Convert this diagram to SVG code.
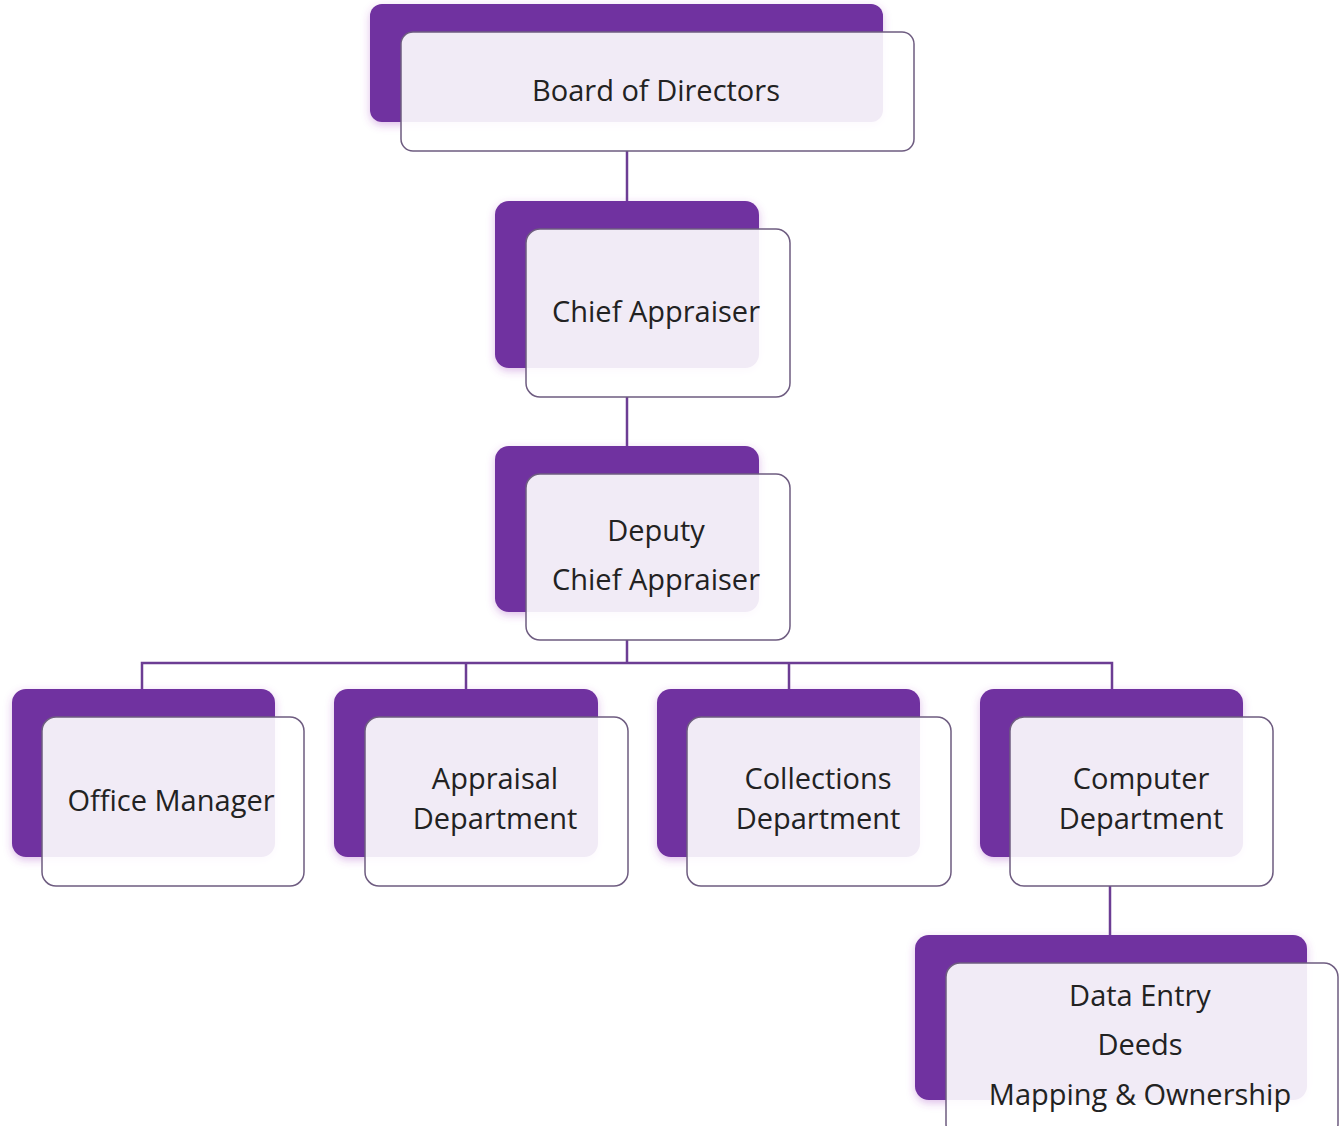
<svg xmlns="http://www.w3.org/2000/svg" width="1341" height="1126" viewBox="0 0 1341 1126">
<style>
.back{fill:#7030a0;}
.front{fill:#ffffff;fill-opacity:0.9;stroke:#6e5c80;stroke-width:1.5;}
.lbl{font-family:"Open Sans","Liberation Sans",Arial,sans-serif;font-size:29px;fill:#222;text-anchor:middle;}
.conn{stroke:#6c3d94;stroke-width:2.5;fill:none;}
</style>
<defs>
<filter id="sh" x="-10%" y="-10%" width="120%" height="130%">
<feDropShadow dx="0" dy="3" stdDeviation="4" flood-color="#a040c0" flood-opacity="0.35"/>
</filter>
</defs>
<rect width="1341" height="1126" fill="#ffffff"/>
<g id="connectors">
<path class="conn" d="M627 151 V201"/>
<path class="conn" d="M627 397 V446"/>
<path class="conn" d="M627 640 V663 M142 689 V663 H1112 V689 M466 663 V689 M789 663 V689"/>
<path class="conn" d="M1110 886 V935"/>
</g>
<g id="board">
<rect class="back" x="370" y="4" width="513" height="118" rx="12" filter="url(#sh)"/>
<rect class="front" x="401" y="32" width="513" height="119" rx="12"/>
<text class="lbl" x="656" y="101">Board of Directors</text>
</g>
<g id="chief">
<rect class="back" x="495" y="201" width="264" height="167" rx="14" filter="url(#sh)"/>
<rect class="front" x="526" y="229" width="264" height="168" rx="14"/>
<text class="lbl" x="656" y="322">Chief Appraiser</text>
</g>
<g id="deputy">
<rect class="back" x="495" y="446" width="264" height="166" rx="14" filter="url(#sh)"/>
<rect class="front" x="526" y="474" width="264" height="166" rx="14"/>
<text class="lbl" x="656" y="541">Deputy</text>
<text class="lbl" x="656" y="590">Chief Appraiser</text>
</g>
<g id="office">
<rect class="back" x="12" y="689" width="263" height="168" rx="14" filter="url(#sh)"/>
<rect class="front" x="42" y="717" width="262" height="169" rx="14"/>
<text class="lbl" x="171" y="811">Office Manager</text>
</g>
<g id="appraisal">
<rect class="back" x="334" y="689" width="264" height="168" rx="14" filter="url(#sh)"/>
<rect class="front" x="365" y="717" width="263" height="169" rx="14"/>
<text class="lbl" x="495" y="789">Appraisal</text>
<text class="lbl" x="495" y="829">Department</text>
</g>
<g id="collections">
<rect class="back" x="657" y="689" width="263" height="168" rx="14" filter="url(#sh)"/>
<rect class="front" x="687" y="717" width="264" height="169" rx="14"/>
<text class="lbl" x="818" y="789">Collections</text>
<text class="lbl" x="818" y="829">Department</text>
</g>
<g id="computer">
<rect class="back" x="980" y="689" width="263" height="168" rx="14" filter="url(#sh)"/>
<rect class="front" x="1010" y="717" width="263" height="169" rx="14"/>
<text class="lbl" x="1141" y="789">Computer</text>
<text class="lbl" x="1141" y="829">Department</text>
</g>
<g id="dataentry">
<rect class="back" x="915" y="935" width="392" height="165" rx="14" filter="url(#sh)"/>
<rect class="front" x="946" y="963" width="392" height="175" rx="14"/>
<text class="lbl" x="1140" y="1006">Data Entry</text>
<text class="lbl" x="1140" y="1055">Deeds</text>
<text class="lbl" x="1140" y="1105">Mapping &amp; Ownership</text>
</g>
</svg>
